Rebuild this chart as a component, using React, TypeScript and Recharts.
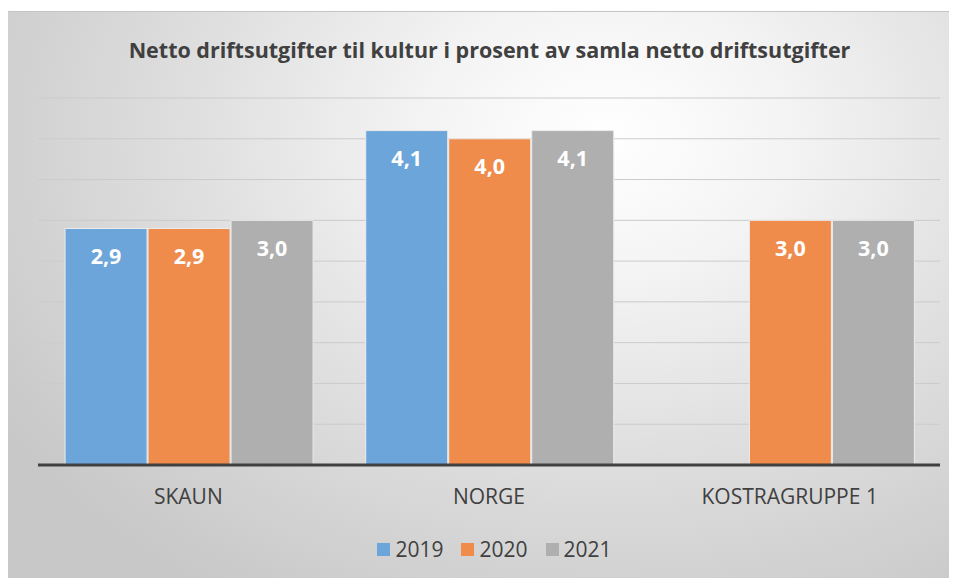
import { Bar, BarChart, CartesianGrid, LabelList, XAxis, YAxis } from "recharts";

const categories = ["SKAUN", "NORGE", "KOSTRAGRUPPE 1"];
const years = ["2019", "2020", "2021"];
const values2019 = [2.9, 4.1, null];
const values2020 = [2.9, 4.0, 3.0];
const values2021 = [3.0, 4.1, 3.0];
const yTicks = [0, 0.5, 1, 1.5, 2, 2.5, 3, 3.5, 4, 4.5];
const colors = ["#6ca5d9", "#ef8c4c", "#afafaf"];

const data = categories.map((name, i) => ({
  name,
  "2019": values2019[i],
  "2020": values2020[i],
  "2021": values2021[i],
}));

const fmt = (v: unknown) => (v == null ? "" : Number(v).toFixed(1).replace(".", ","));

const font = "'Open Sans', 'Liberation Sans', sans-serif";

export default function App() {
  return (
    <div
      style={{
        position: "relative",
        top: 3,
        width: 949,
        height: 569,
        fontFamily: font,
        borderTop: "1px solid #c4c4c4",
        background: "radial-gradient(ellipse 75% 95% at 63% 22%, #ffffff 0%, #f4f4f4 25%, #dedede 60%, #c8c8c8 100%)",
      }}
    >
      <div
        style={{
          position: "absolute",
          top: 23,
          left: 0,
          width: 963,
          textAlign: "center",
          fontSize: 21.5,
          fontWeight: 700,
          color: "#404040",
        }}
      >
        Netto driftsutgifter til kultur i prosent av samla netto driftsutgifter
      </div>
      <BarChart
        width={949}
        height={568}
        data={data}
        margin={{ top: 86, right: 17, left: 30, bottom: 0 }}
        barCategoryGap="9%"
        barGap={1}
      >
        <CartesianGrid vertical={false} stroke="#cbcbcb" />
        <YAxis hide domain={[0, 4.5]} ticks={yTicks} />
        <XAxis
          dataKey="name"
          height={115}
          tickLine={false}
          tickSize={0}
          tickMargin={24}
          axisLine={{ stroke: "#404040", strokeWidth: 3 }}
          tick={{ fill: "#404040", fontSize: 21, fontFamily: font }}
        />
        {years.map((y, i) => (
          <Bar key={y} dataKey={y} fill={colors[i]} stroke="#ececec" strokeWidth={1} isAnimationActive={false}>
            <LabelList
              dataKey={y}
              position="insideTop"
              offset={20}
              formatter={fmt}
              style={{ fill: "#ffffff", fontSize: 21.5, fontWeight: 700, fontFamily: font }}
            />
          </Bar>
        ))}
      </BarChart>
      <div
        style={{
          position: "absolute",
          top: 523,
          left: 0,
          width: 973,
          display: "flex",
          justifyContent: "center",
          gap: 18,
          fontSize: 21,
          color: "#404040",
        }}
      >
        {years.map((y, i) => (
          <div key={y} style={{ display: "flex", alignItems: "center", gap: 5 }}>
            <span style={{ display: "inline-block", width: 13, height: 13, background: colors[i] }} />
            <span>{y}</span>
          </div>
        ))}
      </div>
    </div>
  );
}
